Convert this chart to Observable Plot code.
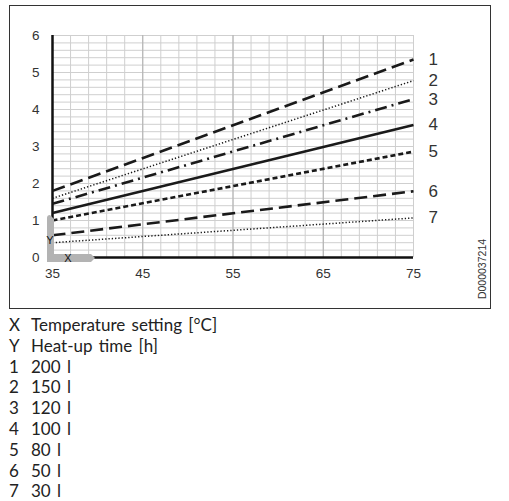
<!DOCTYPE html>
<html>
<head>
<meta charset="utf-8">
<script src="https://cdn.jsdelivr.net/npm/d3@7"></script>
<script src="https://cdn.jsdelivr.net/npm/@observablehq/plot@0.6"></script>
<style>
  body { margin: 0; background: #fff; }
  #wrap { position: relative; width: 509px; height: 312px; }
  #box { position: absolute; left: 9px; top: 5px; width: 482px; height: 304px;
         border: 1.5px solid #333; box-sizing: border-box; pointer-events: none; }
  #docid { position: absolute; left: 482px; top: 269px; font: 10.5px "Liberation Sans", Arial, sans-serif;
           color: #333; transform: translate(-50%, -50%) rotate(-90deg); white-space: nowrap; }
  #chart svg, #chart svg text { font-family: "Liberation Sans", Arial, sans-serif !important; }
  #legend { margin-top: 3px; font-family: Lato, "Noto Sans", sans-serif; font-size: 17px; color: #222; word-spacing: 2px; }
  #legend .row { height: 20.8px; line-height: 20.8px; position: relative; }
  #legend .k { position: absolute; left: 9px; }
  #legend .v { position: absolute; left: 31px; }
</style>
</head>
<body>
<div id="wrap"><div id="chart"></div><div id="box"></div><div id="docid">D000037214</div></div>
<div id="legend"></div>
<script>
// heat-up curves
const temps = [35, 75];
const seriesIds = ["1", "2", "3", "4", "5", "6", "7"];
const volumes = ["200 l", "150 l", "120 l", "100 l", "80 l", "50 l", "30 l"];
const hoursAt35 = [1.8, 1.6, 1.45, 1.2, 1.0, 0.6, 0.4];
const hoursAt75 = [5.35, 4.78, 4.28, 3.58, 2.86, 1.79, 1.07];
const xTicks = [35, 45, 55, 65, 75];
const yTicks = [0, 1, 2, 3, 4, 5, 6];
const axisKeys = ["X", "Y"];
const axisNames = ["Temperature setting [°C]", "Heat-up time [h]"];

// line style per curve
const styles = [
  {dash: "13,6", w: 2.6},
  {dash: "1.3,2", w: 1.5},
  {dash: "12,5,2,5", w: 2.6},
  {dash: null, w: 2.6},
  {dash: "5,3", w: 2.6},
  {dash: "13,6", w: 2.6},
  {dash: "1.3,2", w: 1.5}
];

const rows = seriesIds.flatMap((id, i) => [
  {id, t: temps[0], h: hoursAt35[i]},
  {id, t: temps[1], h: hoursAt75[i]}
]);
const ends = rows.filter(d => d.t === 75);

const chart = Plot.plot({
  width: 509,
  height: 312,
  marginLeft: 52,
  marginRight: 96,
  marginTop: 35,
  marginBottom: 55,
  style: {fontFamily: "'Liberation Sans', Arial, sans-serif", fontSize: "13.5px", color: "#333", background: "transparent"},
  x: {domain: [35, 75], ticks: xTicks, tickSize: 0, tickPadding: 11, label: null, tickFormat: d => String(d)},
  y: {domain: [0, 6], ticks: yTicks, tickSize: 0, tickPadding: 13, label: null, tickFormat: d => String(d)},
  marks: [
    Plot.gridY(d3.range(0, 30.5, 1).map(d => d / 5), {stroke: "#cfcfcf", strokeOpacity: 1}),
    Plot.gridX(d3.range(35, 76, 2), {stroke: "#cfcfcf", strokeOpacity: 1}),
    Plot.gridX([45, 55, 65], {stroke: "#b0b0b0", strokeOpacity: 1}),
    Plot.ruleY([0], {stroke: "#111", strokeWidth: 2.5}),
    Plot.ruleX([35], {stroke: "#111", strokeWidth: 2.5}),
    ...seriesIds.map((id, i) => Plot.line(rows.filter(d => d.id === id), {
      x: "t", y: "h", stroke: "#1a1a1a", strokeWidth: styles[i].w,
      strokeDasharray: styles[i].dash, strokeLinecap: "butt"
    })),
    Plot.text(ends, {x: "t", y: "h", text: "id", dx: 15, textAnchor: "start",
      fontSize: 17, fill: "#333"})
  ]
});
d3.select("#chart").append(() => chart);

// grey X/Y marker at the origin
const sx = chart.scale("x"), sy = chart.scale("y");
const ox = sx.apply(35), oy = sy.apply(0);
const svg = d3.select(chart);
svg.append("path")
  .attr("d", `M${ox - 5},${oy + 5} L${ox - 5},${oy - 39} Q${ox - 5},${oy - 42} ${ox - 2},${oy - 42} L${ox + 2},${oy - 38} L${ox + 2},${oy - 3} L${ox + 39},${oy - 3} L${ox + 43},${oy + 1} L${ox + 39},${oy + 5} Z`)
  .attr("fill", "#b3b3b3");
svg.append("text").attr("x", ox - 2).attr("y", oy - 13).attr("text-anchor", "middle")
  .attr("font-size", 11).attr("fill", "#111").text("Y");
svg.append("text").attr("x", ox + 16).attr("y", oy + 5).attr("text-anchor", "middle")
  .attr("font-size", 11).attr("fill", "#111").text("X");

// legend below the box
const legend = d3.select("#legend");
const keys = axisKeys.concat(seriesIds);
const names = axisNames.concat(volumes);
keys.forEach((k, i) => {
  const r = legend.append("div").attr("class", "row");
  r.append("span").attr("class", "k").text(k);
  r.append("span").attr("class", "v").text(names[i]);
});
</script>
</body>
</html>
